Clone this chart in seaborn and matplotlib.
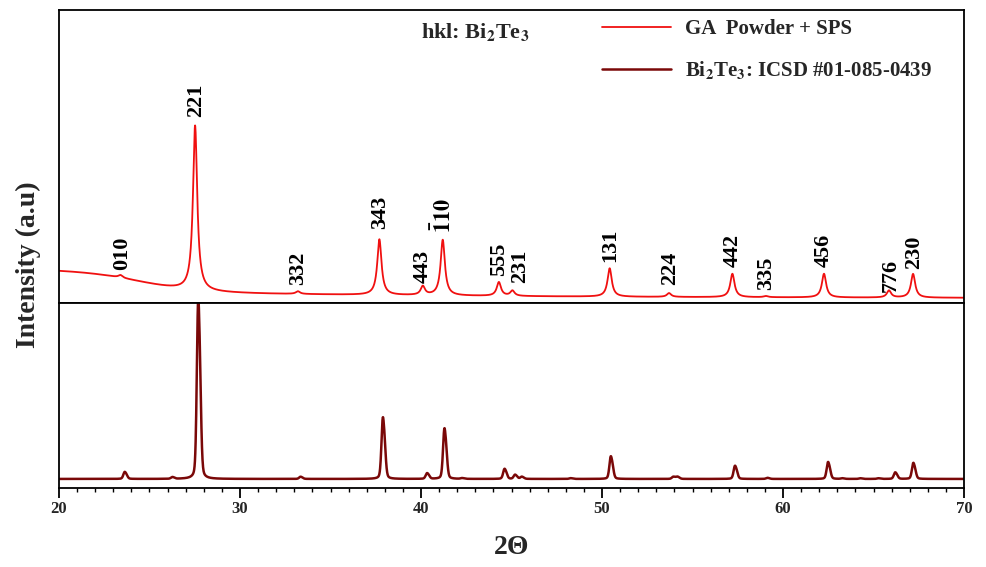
import numpy as np
import pandas as pd
import matplotlib.pyplot as plt
import seaborn as sns

ga_pos = [23.40, 27.52, 33.20, 37.70, 40.10, 41.20, 44.30, 45.05,
          50.42, 53.70, 57.20, 59.05, 62.26, 65.85, 67.18]
ga_height = [0.9, 56.3, 0.9, 19.0, 3.0, 19.0, 4.7, 1.8,
             9.7, 1.3, 8.0, 0.4, 8.1, 2.4, 8.1]
ga_hkl = ['010', '221', '332', '343', '443', r'$\mathbf{\bar{1}10}$', '555', '231',
          '131', '224', '442', '335', '456', '776', '230']
ga_hwhm = 0.14
# background: floor, slow tail (amp, decay), low-angle step (amp, centre, width)
ga_bg_floor = 1.5
ga_bg_tail = (3.0, 18.0)
ga_bg_step = (6.7, 24.5, 1.5)

# ---- reference pattern: Bi2Te3 ICSD #01-085-0439 ----
ref_pos = [23.62, 26.25, 27.68, 33.33, 37.88, 40.32, 41.28, 42.25, 44.60, 45.18,
           45.55, 48.25, 50.47, 53.92, 54.15, 57.33, 59.12, 62.47, 63.25, 64.25,
           65.25, 66.18, 67.18]
ref_height = [3.2, 0.8, 82.0, 1.0, 28.0, 2.6, 23.0, 0.35, 4.6, 1.9,
              1.0, 0.35, 10.3, 1.0, 1.0, 6.0, 0.5, 7.7, 0.3, 0.3,
              0.3, 3.0, 7.3]
ref_baseline = 4.9
ref_fwhm = 0.17
ref_doublet_sep = 0.11   # K-alpha2 shoulder offset seen on the reference peaks
ref_doublet_ratio = 0.5

x_ticks = [20, 30, 40, 50, 60, 70]

# label layout (centre x in degrees, bottom y in axis units)
label_x = [23.48, 27.57, 33.20, 37.73, 40.11, 41.25, 44.31, 45.47,
           50.44, 53.76, 57.24, 59.06, 62.27, 65.97, 67.24]
label_y = [11.2, 63.4, 6.0, 25.2, 6.7, 23.8, 9.1, 6.6,
           13.9, 6.0, 12.2, 4.4, 12.2, 3.7, 11.4]

two_theta = np.arange(20, 70.0001, 0.01)


def ga_curve(x):
    x = np.asarray(x, dtype=float)
    y = ga_bg_floor + ga_bg_tail[0] * np.exp(-(x - 20) / ga_bg_tail[1])
    y = y + ga_bg_step[0] / (1 + np.exp((x - ga_bg_step[1]) / ga_bg_step[2]))
    for c, h in zip(ga_pos, ga_height):
        y = y + h * ga_hwhm ** 2 / ((x - c) ** 2 + ga_hwhm ** 2)
    return y


def pvoigt(x, c, h, fwhm, eta=0.3):
    u = 4 * (x - c) ** 2 / fwhm ** 2
    return h * (eta / (1 + u) + (1 - eta) * np.exp(-np.log(2) * u))


def ref_curve(x):
    y = np.full_like(x, ref_baseline)
    for c, h in zip(ref_pos, ref_height):
        y = y + pvoigt(x, c, h, ref_fwhm)
        y = y + pvoigt(x, c + ref_doublet_sep, ref_doublet_ratio * h, ref_fwhm)
    return y


df_ga = pd.DataFrame({'2theta': two_theta, 'I': ga_curve(two_theta)})
df_ref = pd.DataFrame({'2theta': two_theta, 'I': ref_curve(two_theta)})

sns.set_theme(style='white')
plt.rcParams['font.family'] = ['Liberation Serif', 'DejaVu Serif']
plt.rcParams['font.weight'] = 'bold'
plt.rcParams['mathtext.fontset'] = 'stix'
plt.rcParams['axes.linewidth'] = 1.3
plt.rcParams['axes.edgecolor'] = 'black'

fig = plt.figure(figsize=(9.86, 5.67), dpi=100)
ax_top = fig.add_axes([0.0598, 0.4661, 0.918, 0.5163])
ax_bot = fig.add_axes([0.0598, 0.1393, 0.918, 0.3268])

red = '#f01010'
maroon = '#7a0808'

sns.lineplot(data=df_ga, x='2theta', y='I', ax=ax_top, color=red, lw=1.3, estimator=None)
sns.lineplot(data=df_ref, x='2theta', y='I', ax=ax_bot, color=maroon, lw=1.8, estimator=None)

for ax in (ax_top, ax_bot):
    ax.set_xlim(20, 70)
    ax.set_ylim(0, 100)
    ax.set_xlabel('')
    ax.set_ylabel('')
    ax.set_yticks([])
    for s in ax.spines.values():
        s.set_visible(True)
        s.set_color('black')

ax_top.set_xticks([])
ax_bot.set_xticks(x_ticks)
ax_bot.set_xticks(np.arange(20, 71, 1), minor=True)
ax_bot.tick_params(axis='x', which='major', direction='out', length=7, width=1.3,
                   labelsize=12, pad=2, bottom=True, color='black')
ax_bot.tick_params(axis='x', which='minor', direction='out', length=3, width=1.0,
                   bottom=True, color='black')
for lbl in ax_bot.get_xticklabels():
    lbl.set_fontweight('bold')

# hkl labels above the measured peaks
for lab, lx, ly in zip(ga_hkl, label_x, label_y):
    ax_top.text(lx, ly, lab, rotation=90, ha='center', va='bottom',
                fontsize=16, fontweight='bold', color='black')

ax_top.text(0.4, 0.925, r'hkl: Bi$_\mathbf{2}$Te$_\mathbf{3}$', transform=ax_top.transAxes,
            ha='left', va='center', fontsize=16, fontweight='bold')

handles = [ax_top.lines[0], ax_bot.lines[0]]
labels = ['GA  Powder + SPS', r'Bi$_\mathbf{2}$Te$_\mathbf{3}$: ICSD #01-085-0439']
fig.legend(handles, labels, loc='upper left', bbox_to_anchor=(602 / 986, 1 - 19 / 567),
           frameon=False, fontsize=15, handlelength=3.3, handletextpad=0.7,
           labelspacing=0.95, borderpad=0, borderaxespad=0)

fig.text(28 / 986, 1 - 265 / 567, 'Intensity (a.u)', rotation=90, ha='center', va='center',
         fontsize=20, fontweight='bold')
fig.text(512 / 986, 1 - 548 / 567, '2\u0398', ha='center', va='center',
         fontsize=20, fontweight='bold')

fig.savefig('out.png', dpi=100)
